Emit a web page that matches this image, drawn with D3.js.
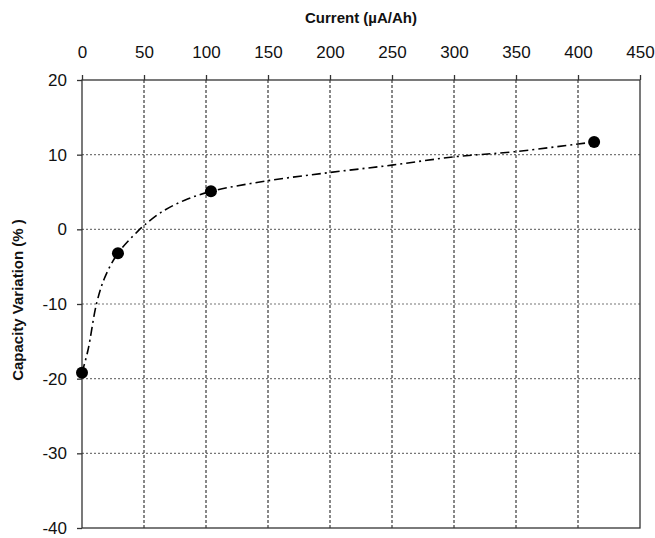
<!DOCTYPE html>
<html>
<head>
<meta charset="utf-8">
<script src="https://cdn.jsdelivr.net/npm/d3@7"></script>
<style>
  body { margin: 0; background: #fff; }
  svg text { font-family: "Liberation Sans", Arial, sans-serif; fill: #111; }
  .axislabel { font-size: 15px; font-weight: bold; }
</style>
</head>
<body>
<div id="chart"></div>
<script>
// measured points
const currentVals = [0, 29, 104, 413];
const capacityVals = [-19.2, -3.2, 5.1, 11.7];

// fitted trend line
const fitX = [0, 4.8, 11.8, 18.5, 29, 45.3, 50.6, 64, 82.8, 104.5, 149.5, 199.3, 249.9, 299.7, 349, 413];
const fitY = [-19.2, -16.2, -9.9, -6.4, -3.2, -0.2, 0.6, 2.3, 3.9, 5.1, 6.5, 7.6, 8.6, 9.7, 10.4, 11.7];

const xTicks = [0, 50, 100, 150, 200, 250, 300, 350, 400, 450];
const yTicks = [-40, -30, -20, -10, 0, 10, 20];

const width = 655, height = 538;
const margin = ({top: 80, right: 15, bottom: 10, left: 82});

let svg = d3.select("#chart").append("svg")
  .attr("width", width)
  .attr("height", height);

let x = d3.scaleLinear().domain([0, 450]).range([margin.left, width - margin.right]);
let y = d3.scaleLinear().domain([-40, 20]).range([height - margin.bottom, margin.top]);

// grid
svg.append("g").selectAll("line")
  .data(yTicks.slice(1, -1))
  .join("line")
  .attr("x1", x(0)).attr("x2", x(450))
  .attr("y1", d => y(d)).attr("y2", d => y(d))
  .attr("stroke", "#777").attr("stroke-width", 1.2)
  .attr("stroke-dasharray", "2,2");

svg.append("g").selectAll("line")
  .data(xTicks.slice(1, -1))
  .join("line")
  .attr("x1", d => x(d)).attr("x2", d => x(d))
  .attr("y1", y(20)).attr("y2", y(-40))
  .attr("stroke", "#111").attr("stroke-width", 1)
  .attr("stroke-dasharray", "3,2");

// frame
svg.append("rect")
  .attr("x", x(0)).attr("y", y(20))
  .attr("width", x(450) - x(0)).attr("height", y(-40) - y(20))
  .attr("fill", "none").attr("stroke", "#333").attr("stroke-width", 1.3);

// axes (hyphen minus like the original)
let fmt = d => String(d);
let xAxis = d3.axisTop(x).tickValues(xTicks).tickSize(5).tickPadding(17).tickFormat(fmt);
let yAxis = d3.axisLeft(y).tickValues(yTicks).tickSize(5).tickPadding(10).tickFormat(fmt);

svg.append("g")
  .attr("transform", `translate(0,${y(20)})`)
  .call(xAxis)
  .attr("font-family", null).attr("font-size", 17)
  .call(g => g.select(".domain").remove())
  .call(g => g.selectAll(".tick line").attr("stroke", "#333").attr("stroke-width", 1.3));

svg.append("g")
  .attr("transform", `translate(${x(0)},0)`)
  .call(yAxis)
  .attr("font-family", null).attr("font-size", 17)
  .call(g => g.select(".domain").remove())
  .call(g => g.selectAll(".tick line").attr("stroke", "#333").attr("stroke-width", 1.3));

// axis titles
svg.append("text")
  .attr("class", "axislabel")
  .attr("text-anchor", "middle")
  .attr("x", (x(0) + x(450)) / 2)
  .attr("y", 23)
  .text("Current (µA/Ah)");

svg.append("text")
  .attr("class", "axislabel")
  .attr("text-anchor", "middle")
  .attr("transform", `translate(23,${(y(20) + y(-40)) / 2 - 4}) rotate(-90)`)
  .text("Capacity Variation (% )");

// trend line
let line = d3.line()
  .x((d, i) => x(fitX[i]))
  .y(d => y(d))
  .curve(d3.curveCatmullRom);

svg.append("path")
  .datum(fitY)
  .attr("d", line)
  .attr("fill", "none")
  .attr("stroke", "#000")
  .attr("stroke-width", 1.6)
  .attr("stroke-dasharray", "9,4,2,4");

// points
svg.append("g").selectAll("circle")
  .data(capacityVals)
  .join("circle")
  .attr("cx", (d, i) => x(currentVals[i]))
  .attr("cy", d => y(d))
  .attr("r", 6)
  .attr("fill", "#000");
</script>
</body>
</html>
